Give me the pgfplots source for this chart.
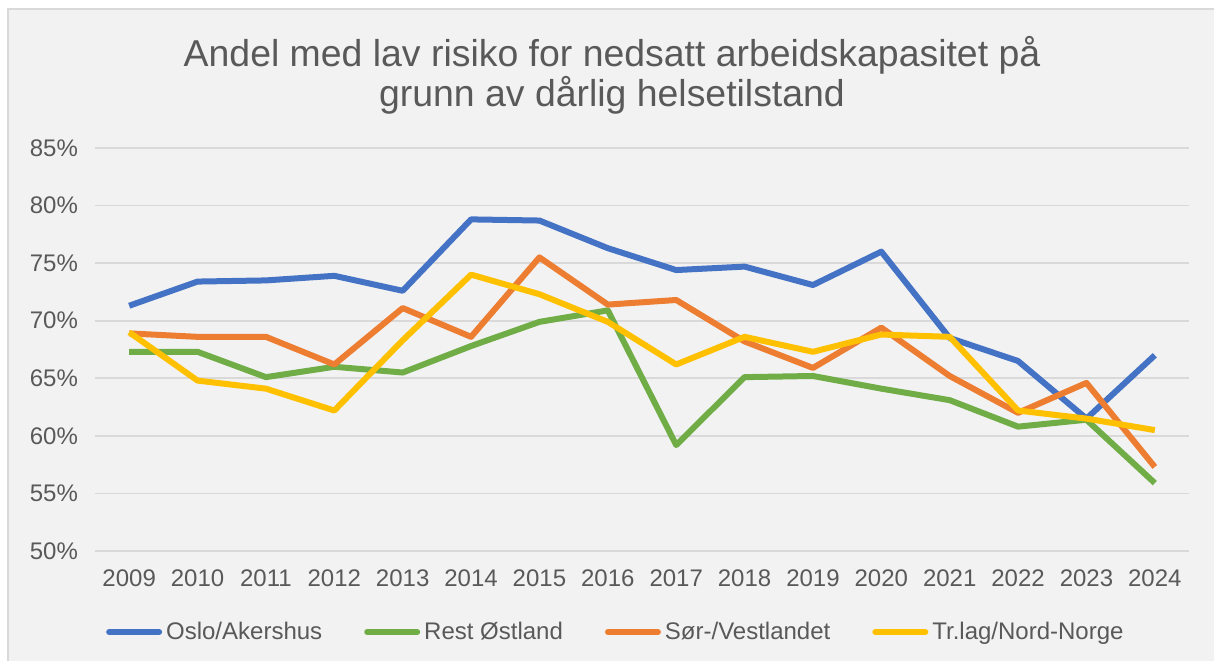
\documentclass[border=0pt]{standalone}
\usepackage{fontspec}
\setmainfont{Liberation Sans}
\usepackage{pgfplots}
\pgfplotsset{compat=1.18}
\definecolor{cblue}{HTML}{4472C4}
\definecolor{cgreen}{HTML}{70AD47}
\definecolor{corange}{HTML}{ED7D31}
\definecolor{cyellow}{HTML}{FFC000}
\definecolor{cgrid}{HTML}{D9D9D9}
\definecolor{ctext}{HTML}{595959}
\definecolor{cbg}{HTML}{F2F2F2}
\begin{document}
\begin{tikzpicture}
\useasboundingbox (0,0) rectangle (607pt,330pt);
\fill[white] (0,0) rectangle (607pt,330pt);
\draw[cgrid, fill=cbg, line width=1pt] (4pt,-5pt) rectangle (612pt,325.5pt);
\node[text=ctext, font=\fontsize{18.7}{22}\selectfont] at (306pt,302.5pt) {Andel med lav risiko for nedsatt arbeidskapasitet på};
\node[text=ctext, font=\fontsize{18.7}{22}\selectfont] at (306pt,282.5pt) {grunn av dårlig helsetilstand};
\begin{axis}[
  at={(47.5pt,54.5pt)}, anchor=south west,
  scale only axis, width=547pt, height=201.5pt,
  xmin=-0.5, xmax=15.5, ymin=50, ymax=85,
  xtick={0,...,15},
  xticklabels={2009,2010,2011,2012,2013,2014,2015,2016,2017,2018,2019,2020,2021,2022,2023,2024},
  ytick={50,55,60,65,70,75,80,85},
  yticklabels={50\%,55\%,60\%,65\%,70\%,75\%,80\%,85\%},
  ymajorgrids, grid style={cgrid, line width=0.8pt},
  axis line style={draw=none},
  major tick length=0pt,
  tick label style={text=ctext, font=\fontsize{12}{14}\selectfont},
  yticklabel style={xshift=-5pt},
  xticklabel style={yshift=-6pt},
  legend style={at={(0.477,-0.201)}, anchor=center, draw=none, fill=none,
    text=ctext, font=\fontsize{12}{14}\selectfont,
    /tikz/every even column/.append style={column sep=19pt}},
  legend columns=4,
  legend image code/.code={\draw[#1, line width=3pt, line cap=round] (1.5pt,0pt) -- (26.5pt,0pt);},
  every axis plot/.append style={line width=3pt, line join=round, mark=none},
]
\addplot[cblue] coordinates {(0,71.3)(1,73.4)(2,73.5)(3,73.9)(4,72.6)(5,78.8)(6,78.7)(7,76.3)(8,74.4)(9,74.7)(10,73.1)(11,76.0)(12,68.5)(13,66.5)(14,61.5)(15,67.0)};
\addlegendentry{Oslo/Akershus}
\addplot[cgreen] coordinates {(0,67.3)(1,67.3)(2,65.1)(3,66.0)(4,65.5)(5,67.8)(6,69.9)(7,70.9)(8,59.2)(9,65.1)(10,65.2)(11,64.1)(12,63.1)(13,60.8)(14,61.4)(15,55.9)};
\addlegendentry{Rest Østland}
\addplot[corange] coordinates {(0,68.9)(1,68.6)(2,68.6)(3,66.2)(4,71.1)(5,68.6)(6,75.5)(7,71.4)(8,71.8)(9,68.2)(10,65.9)(11,69.4)(12,65.2)(13,62.0)(14,64.6)(15,57.3)};
\addlegendentry{Sør-/Vestlandet}
\addplot[cyellow] coordinates {(0,69.0)(1,64.8)(2,64.1)(3,62.2)(4,68.3)(5,74.0)(6,72.3)(7,69.9)(8,66.2)(9,68.6)(10,67.3)(11,68.8)(12,68.6)(13,62.2)(14,61.5)(15,60.5)};
\addlegendentry{Tr.lag/Nord-Norge}
\end{axis}
\end{tikzpicture}
\end{document}
